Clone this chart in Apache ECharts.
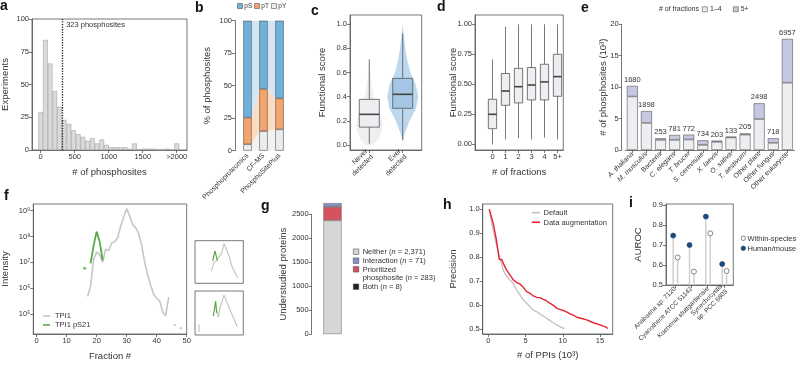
<!DOCTYPE html>
<html>
<head>
<meta charset="utf-8">
<script src="https://cdn.jsdelivr.net/npm/echarts@6.0.0/dist/echarts.min.js"></script>
<style>
html,body{margin:0;padding:0;background:#ffffff;}
#chart{width:800px;height:365px;}
</style>
</head>
<body>
<div id="chart"></div>
<script>
// ===================== DATA =====================
// (a) phosphosites per experiment (histogram)
const histBinCenters = [0, 69, 138, 207, 276, 345, 414, 483, 552, 621, 690, 759, 828, 897, 966, 1034, 1103, 1172, 1241, 1310, 1379, 1448, 1517, 1586, 1655, 1724, 1793, 1862, 1931, 2000];
const histCounts = [29, 84, 66, 45, 33, 23, 20, 15, 12, 10, 7, 9, 5, 8, 4, 2, 2, 2, 2, 1, 5, 0, 1, 1, 1, 0, 0, 1, 0, 5];
const histMedian = 323;
const histXTicks = [0, 500, 1000, 1500, 2000];

// (b) residue composition
const bCategories = ['Phosphoproteomics', 'CF-MS', 'PhosphoSitePlus'];
const bPY = [5.0, 15.0, 16.4];
const bPT = [20.5, 32.5, 23.9];
const bPS = [74.5, 52.5, 59.7];

// (c) functional score, never vs ever detected
const cCategories = ['Never\ndetected', 'Ever\ndetected'];
const cBoxStats = [[0.01, 0.148, 0.254, 0.378, 0.71], [0.04, 0.304, 0.42, 0.552, 0.925]];
const cNeverLevels = [0.0, 0.05, 0.1, 0.15, 0.2, 0.25, 0.3, 0.4, 0.5, 0.6, 0.72];
const cNeverDensity = [0.3, 0.7, 0.9, 1.0, 0.95, 0.85, 0.65, 0.35, 0.18, 0.08, 0.0];
const cEverLevels = [0.03, 0.1, 0.2, 0.3, 0.4, 0.5, 0.6, 0.7, 0.8, 0.9, 1.0];
const cEverDensity = [0.0, 0.15, 0.45, 0.85, 1.0, 0.85, 0.5, 0.3, 0.17, 0.08, 0.0];
const cYTicks = [0, 0.2, 0.4, 0.6, 0.8, 1.0];

// (d) functional score by # of fractions  [min, Q1, median, Q3, max]
const dCategories = ['0', '1', '2', '3', '4', '5+'];
const dBoxStats = [
  [0.0, 0.13, 0.25, 0.375, 0.708],
  [0.04, 0.325, 0.444, 0.59, 0.98],
  [0.05, 0.345, 0.48, 0.633, 1.0],
  [0.04, 0.37, 0.494, 0.64, 1.0],
  [0.055, 0.37, 0.52, 0.667, 1.0],
  [0.04, 0.40, 0.564, 0.75, 1.0]
];
const dYTicks = [0, 0.25, 0.5, 0.75, 1.0];

// (e) phosphosites per species (thousands)
const eSpecies = ['A. thaliana', 'M. musculus', 'Bacteria', 'C. elegans', 'T. brucei', 'S. cerevisiae', 'X. laevis', 'O. sativa', 'T. aestivum', 'Other plant', 'Other fungus', 'Other eukaryote'];
const eItalic = [true, true, false, true, true, true, true, true, true, false, false, false];
const eOneToFour = [8.51, 4.30, 1.61, 1.61, 1.67, 0.81, 1.29, 1.99, 2.44, 4.93, 1.14, 10.71];
const eFivePlusCount = [1680, 1898, 253, 781, 772, 734, 203, 133, 205, 2498, 718, 6957];

// (f) TPI1 elution profile
const fFractions = [17, 18, 19, 20, 21, 22, 23, 24, 25, 26, 27, 28, 29, 30, 31, 32, 33, 34, 35, 36, 37, 38, 39, 40, 41, 42, 43, 44];
const fTPI1 = [4.7e5, 1.2e6, 1.3e7, 2.5e7, 2.0e7, 1.0e7, 3.2e7, 2.8e7, 5.6e7, 6.3e7, 8.9e7, 2.5e8, 5.6e8, 1.2e9, 6.3e8, 2.8e8, 2.2e8, 1.3e8, 4.7e7, 1.0e7, 3.2e6, 1.3e6, 5.6e5, 4.0e5, 3.2e5, 1.2e5, 8.3e4, 4.5e5];
const fTPI1LoneFractions = [46, 48];
const fTPI1Lone = [3.7e4, 2.8e4];
const fPS21Fractions = [18, 19, 20, 21, 22];
const fPS21 = [9.0e6, 4.5e7, 1.55e8, 6.3e7, 1.2e7];
const fPS21LoneFractions = [16];
const fPS21Lone = [5.9e6];
const fYTicks = [5, 6, 7, 8, 9];
// insets (fraction, relative intensity)
const fInset1TPI1 = [[17, 0.30], [19.5, 0.51], [22, 0.55], [25, 0.66], [27.5, 0.74], [30, 0.98], [32.8, 0.82], [35.5, 0.66], [38, 0.43], [40.5, 0.31], [42.4, 0.20], [43.5, 0.23], [44.5, 0.14]];
const fInset1PS21 = [[18.3, 0.55], [20.7, 0.80], [23.1, 0.56]];
const fInset2TPI1a = [[4, 0.25], [4.2, 0.07]];
const fInset2TPI1b = [[22.4, 0.60], [24.1, 0.42], [25.9, 0.64], [27.6, 0.68], [30, 0.95], [32.8, 0.80], [36.2, 0.60], [39.7, 0.42], [42.4, 0.27], [43.8, 0.19]];
const fInset2PS21 = [[19, 0.45], [21.4, 0.81], [22.4, 0.53]];

// (g) understudied proteins
const gGroups = ['Neither', 'Prioritized phosphosite', 'Both', 'Interaction'];
const gCounts = [2371, 283, 8, 71];

// (h) precision vs # of PPIs (10^3)
const hDefaultX = [0.13, 0.67, 1.1, 1.57, 2.0, 2.46, 2.9, 3.36, 3.8, 4.25, 4.7, 5.15, 5.6, 6.05, 6.5, 6.94, 7.4, 7.8, 8.3, 8.7, 9.2, 9.6, 10.1, 10.2];
const hDefaultY = [1.0, 0.91, 0.85, 0.795, 0.746, 0.72, 0.705, 0.69, 0.663, 0.642, 0.621, 0.607, 0.593, 0.579, 0.572, 0.563, 0.554, 0.545, 0.535, 0.526, 0.517, 0.51, 0.503, 0.5];
const hAugX = [0.13, 0.67, 1.1, 1.48, 1.8, 2.0, 2.46, 2.9, 3.36, 3.8, 4.25, 4.7, 5.15, 5.6, 6.05, 6.5, 6.94, 7.4, 7.8, 8.3, 8.7, 9.2, 9.6, 10.1, 10.5, 11.0, 11.4, 11.9, 12.3, 13.2, 14.1, 15.0, 15.9, 16.0];
const hAugY = [1.0, 0.94, 0.87, 0.79, 0.79, 0.775, 0.746, 0.726, 0.705, 0.694, 0.688, 0.674, 0.656, 0.649, 0.638, 0.632, 0.631, 0.624, 0.618, 0.607, 0.6, 0.586, 0.582, 0.577, 0.571, 0.563, 0.558, 0.549, 0.546, 0.538, 0.526, 0.517, 0.507, 0.501];
const hXTicks = [0, 5, 10, 15];
const hYTicks = [0.5, 0.6, 0.7, 0.8, 0.9, 1.0];

// (i) AUROC
const iSpecies = ['Anabaena sp. 7120', 'Cyanothece ATCC 51142', 'Kuenenia stuttgartiensis', 'Synechocystis\nsp. PCC 6803'];
const iWithin = [0.638, 0.567, 0.758, 0.57];
const iHuman = [0.747, 0.70, 0.842, 0.605];
const iYTicks = [0.5, 0.6, 0.7, 0.8, 0.9];
const iBase = 0.5;

// ===================== STYLE HELPERS =====================
const FONT = '"Liberation Sans", Arial, Helvetica, sans-serif';
const AX = '#555555';
const TX = '#333333';
const FS = 7.5;
const TFS = 9.5;
const SUP = {5: '\u2075', 6: '\u2076', 7: '\u2077', 8: '\u2078', 9: '\u2079'};

function merge(a, b) {
  const out = Object.assign({}, a);
  for (const k in b) {
    const bv = b[k], av = a[k];
    if (bv && typeof bv === 'object' && !Array.isArray(bv) && typeof bv !== 'function' &&
        av && typeof av === 'object' && !Array.isArray(av)) out[k] = merge(av, bv);
    else out[k] = bv;
  }
  return out;
}
const axisBase = {
  type: 'value',
  axisLine: {show: true, onZero: false, lineStyle: {color: AX, width: 0.8}},
  axisTick: {show: true, length: 3, lineStyle: {color: AX, width: 0.8}},
  axisLabel: {color: TX, fontSize: FS, fontFamily: FONT, margin: 3},
  splitLine: {show: false},
  nameLocation: 'middle',
  nameMoveOverlap: false,
  nameTextStyle: {color: TX, fontSize: TFS, fontFamily: FONT}
};
const xAx = o => merge(axisBase, o);
const yAx = o => merge(merge(axisBase, {nameRotate: 90}), o);
function grid(l, t, w, h, frame) {
  return {left: l, top: t, width: w, height: h, show: frame, borderColor: AX,
          borderWidth: frame ? 0.8 : 0, backgroundColor: 'transparent',
          containLabel: false, outerBoundsMode: 'none'};
}
const idx = arr => arr.map((_, i) => i);

// ===================== GRIDS & AXES =====================
const grids = [
  grid(32, 19, 155, 131, true),          // 0 a
  grid(239.5, 20.7, 48, 130, false),     // 1 b
  grid(350, 15, 71.7, 135, true),        // 2 c
  grid(475, 15, 88.3, 135, true),        // 3 d
  grid(625.3, 24.3, 169.1, 125.7, false),// 4 e
  grid(33.3, 204, 153.4, 130, true),     // 5 f
  grid(195, 240.7, 48.3, 42.6, true),    // 6 f inset 1
  grid(195, 291, 48.3, 44, true),        // 7 f inset 2
  grid(311.7, 214.3, 41.6, 119.7, false),// 8 g
  grid(482.7, 204, 130, 130, true),      // 9 h
  grid(666, 204, 67.3, 81, true)         // 10 i
];

const xAxes = [
  xAx({gridIndex: 0, min: -128, max: 2151, name: '# of phosphosites', nameGap: 17.5,
       axisLabel: {customValues: histXTicks, formatter: v => v >= 2000 ? '>2000' : String(v)},
       axisTick: {customValues: histXTicks}}),
  xAx({gridIndex: 1, type: 'category', data: bCategories, axisLine: {show: false}, axisTick: {show: false},
       axisLabel: {interval: 0, rotate: 45, fontSize: 7, margin: 4}}),
  xAx({gridIndex: 2, min: -0.578, max: 1.569,
       axisLabel: {customValues: [0, 1], formatter: v => cCategories[Math.round(v)], rotate: 45, fontSize: 7, lineHeight: 8},
       axisTick: {customValues: [0, 1]}}),
  xAx({gridIndex: 3, min: -1.346, max: 5.446, name: '# of fractions', nameGap: 17.5,
       axisLabel: {customValues: idx(dCategories), formatter: v => dCategories[Math.round(v)]},
       axisTick: {customValues: idx(dCategories)}}),
  xAx({gridIndex: 4, type: 'category', data: eSpecies,
       axisTick: {alignWithLabel: true, interval: 0},
       axisLabel: {interval: 0, rotate: 45, fontSize: 7,
                   formatter: (v, i) => eItalic[i] ? '{it|' + v + '}' : v,
                   rich: {it: {fontStyle: 'italic', fontSize: 7, fontFamily: FONT, color: TX}}}}),
  xAx({gridIndex: 5, min: -1.1, max: 50, name: 'Fraction #', nameGap: 17.5,
       axisLabel: {customValues: [0, 10, 20, 30, 40, 50]}, axisTick: {customValues: [0, 10, 20, 30, 40, 50]}}),
  xAx({gridIndex: 6, min: 0, max: 50, show: false}),
  xAx({gridIndex: 7, min: 0, max: 50, show: false}),
  xAx({gridIndex: 8, type: 'category', data: ['Understudied'], show: false}),
  xAx({gridIndex: 9, min: -0.75, max: 16.7, name: '# of PPIs (10\u00B3)', nameGap: 16.5,
       axisLabel: {customValues: hXTicks}, axisTick: {customValues: hXTicks}}),
  xAx({gridIndex: 10, min: -0.551, max: 3.57,
       axisLabel: {customValues: idx(iSpecies), formatter: v => iSpecies[Math.round(v)], rotate: 45, fontSize: 6.5, lineHeight: 7.5},
       axisTick: {customValues: idx(iSpecies)}})
];

const yAxes = [
  yAx({gridIndex: 0, min: 0, max: 100, interval: 25, name: 'Experiments', nameGap: 21.5}),
  yAx({gridIndex: 1, min: 0, max: 100, interval: 25, offset: 4.5, name: '% of phosphosites', nameGap: 23}),
  yAx({gridIndex: 2, min: -0.0414, max: 1.077, name: 'Functional score', nameGap: 23,
       axisLabel: {customValues: cYTicks, formatter: v => v.toFixed(1)}, axisTick: {customValues: cYTicks}}),
  yAx({gridIndex: 3, min: -0.0475, max: 1.0775, name: 'Functional score', nameGap: 16.5,
       axisLabel: {customValues: dYTicks, formatter: v => v.toFixed(2)}, axisTick: {customValues: dYTicks}}),
  yAx({gridIndex: 4, min: 0, max: 20, interval: 5, offset: 3.6, name: '# of phosphosites (10\u00B3)', nameGap: 13.5}),
  yAx({gridIndex: 5, min: 4.22, max: 9.26, name: 'Intensity', nameGap: 23,
       axisLabel: {customValues: fYTicks, formatter: v => '10' + SUP[Math.round(v)]}, axisTick: {customValues: fYTicks}}),
  yAx({gridIndex: 6, min: 0, max: 1.05, show: false}),
  yAx({gridIndex: 7, min: 0, max: 1.05, show: false}),
  yAx({gridIndex: 8, min: 0, max: 2500, interval: 500, name: 'Understudied proteins', nameGap: 23.5,
       axisLabel: {formatter: v => String(v)}}),
  yAx({gridIndex: 9, min: 0.479, max: 1.022, name: 'Precision', nameGap: 24.5,
       axisLabel: {customValues: hYTicks, formatter: v => v.toFixed(1)}, axisTick: {customValues: hYTicks}}),
  yAx({gridIndex: 10, min: 0.5, max: 0.905, name: 'AUROC', nameGap: 22.5,
       axisLabel: {customValues: iYTicks, formatter: v => v.toFixed(1)}, axisTick: {customValues: iYTicks}})
];

// ===================== SERIES =====================
const series = [];
const BORDER = '#555555';

// (a)
series.push({
  type: 'bar', xAxisIndex: 0, yAxisIndex: 0, barWidth: 4.7,
  data: histBinCenters.map((c, i) => [c, histCounts[i]]),
  itemStyle: {color: '#dadada', borderColor: '#9b9b9b', borderWidth: 0.5},
  markLine: {silent: true, symbol: ['none', 'none'], data: [{xAxis: histMedian}],
             lineStyle: {color: '#222', type: 'dotted', width: 1.3}, label: {show: false}},
  markPoint: {silent: true, symbol: 'circle', symbolSize: 1, itemStyle: {color: 'rgba(0,0,0,0)'},
              data: [{coord: [histMedian, 95.5]}],
              label: {show: true, position: 'right', distance: 3, formatter: histMedian + ' phosphosites',
                      color: TX, fontSize: 7.5, fontFamily: FONT}}
});

// (b)
const bColors = {pS: '#6eb1dc', pT: '#f3a36b', pY: '#ececec'};
const bBandColors = ['#f2f2f2', '#fcdcc3', '#d3e6f4'];
const bCum = bCategories.map((_, i) => [0, bPY[i], bPY[i] + bPT[i], bPY[i] + bPT[i] + bPS[i]]);
const bBarW = 8.5;
series.push({
  type: 'custom', xAxisIndex: 1, yAxisIndex: 1, z: 1, silent: true,
  data: [[0, 0], [0, 1], [0, 2], [1, 0], [1, 1], [1, 2]],
  renderItem: (params, api) => {
    const i = api.value(0), k = api.value(1);
    const a1 = api.coord([i, bCum[i][k]]), a2 = api.coord([i, bCum[i][k + 1]]);
    const b1 = api.coord([i + 1, bCum[i + 1][k]]), b2 = api.coord([i + 1, bCum[i + 1][k + 1]]);
    const h = bBarW / 2;
    return {type: 'polygon', shape: {points: [[a1[0] + h, a1[1]], [a2[0] + h, a2[1]], [b2[0] - h, b2[1]], [b1[0] - h, b1[1]]]},
            style: {fill: bBandColors[k]}};
  }
});
[['pY', bPY], ['pT', bPT], ['pS', bPS]].forEach(([name, vals]) => {
  series.push({type: 'bar', name, stack: 'b', xAxisIndex: 1, yAxisIndex: 1, barWidth: bBarW, z: 3, data: vals,
               itemStyle: {color: bColors[name], borderColor: BORDER, borderWidth: 0.6}});
});

// box renderer (c, d)
function boxRender(fills, boxW) {
  return (params, api) => {
    const i = api.value(0);
    const p = [1, 2, 3, 4, 5].map(d => api.coord([i, api.value(d)]));
    const x = p[0][0], hw = boxW / 2;
    return {type: 'group', children: [
      {type: 'line', shape: {x1: x, y1: p[0][1], x2: x, y2: p[1][1]}, style: {stroke: '#555', lineWidth: 0.8}},
      {type: 'line', shape: {x1: x, y1: p[3][1], x2: x, y2: p[4][1]}, style: {stroke: '#555', lineWidth: 0.8}},
      {type: 'rect', shape: {x: x - hw, y: p[3][1], width: boxW, height: p[1][1] - p[3][1]},
       style: {fill: fills[i], stroke: '#555', lineWidth: 0.8}},
      {type: 'line', shape: {x1: x - hw, y1: p[2][1], x2: x + hw, y2: p[2][1]}, style: {stroke: '#444', lineWidth: 1.6}}
    ]};
  };
}

// (c) violins
const cLevels = [cNeverLevels, cEverLevels], cDens = [cNeverDensity, cEverDensity];
const cViolinHalfW = [13, 15.5];
const cViolinFill = ['#efefef', '#bdd7ee'];
series.push({
  type: 'custom', xAxisIndex: 2, yAxisIndex: 2, z: 1, silent: true,
  data: cBoxStats.map((s, i) => [i, s[2]]),
  renderItem: (params, api) => {
    const i = api.value(0);
    const L = [], R = [];
    cLevels[i].forEach((lv, k) => {
      const c = api.coord([i, lv]);
      L.push([c[0] - cDens[i][k] * cViolinHalfW[i], c[1]]);
      R.push([c[0] + cDens[i][k] * cViolinHalfW[i], c[1]]);
    });
    return {type: 'polygon', shape: {points: L.concat(R.reverse())}, style: {fill: cViolinFill[i]}};
  }
});
series.push({
  type: 'custom', xAxisIndex: 2, yAxisIndex: 2, z: 2, silent: true,
  encode: {x: 0, y: [1, 2, 3, 4, 5]},
  data: cBoxStats.map((s, i) => [i].concat(s)),
  renderItem: boxRender(['#eceef1', '#a4c6e4'], 20)
});

// (d)
series.push({
  type: 'custom', xAxisIndex: 3, yAxisIndex: 3, z: 2, silent: true,
  encode: {x: 0, y: [1, 2, 3, 4, 5]},
  data: dBoxStats.map((s, i) => [i].concat(s)),
  renderItem: boxRender(dCategories.map(() => '#eceef1'), 8.3)
});

// (e)
series.push({
  type: 'bar', name: '1\u20134', stack: 'e', xAxisIndex: 4, yAxisIndex: 4, barWidth: 11,
  data: eOneToFour,
  itemStyle: {color: '#eceef1', borderColor: BORDER, borderWidth: 0.6}
});
series.push({
  type: 'bar', name: '5+', stack: 'e', xAxisIndex: 4, yAxisIndex: 4, barWidth: 11,
  data: eFivePlusCount.map(v => v / 1000),
  itemStyle: {color: '#c6c7e1', borderColor: BORDER, borderWidth: 0.6},
  label: {show: true, position: 'top', distance: 2, formatter: p => String(eFivePlusCount[p.dataIndex]),
          color: TX, fontSize: 7.5, fontFamily: FONT}
});

// (f)
const GRAY = '#c6c6c6', GREEN = '#5aab47';
series.push({type: 'line', name: 'TPI1', xAxisIndex: 5, yAxisIndex: 5, z: 2, showSymbol: false,
  data: fFractions.map((f, i) => [f, Math.log10(fTPI1[i])]), lineStyle: {color: GRAY, width: 1.6}, itemStyle: {color: GRAY}});
series.push({type: 'scatter', xAxisIndex: 5, yAxisIndex: 5, z: 2, symbolSize: 2.6,
  data: fTPI1LoneFractions.map((f, i) => [f, Math.log10(fTPI1Lone[i])]), itemStyle: {color: GRAY}});
series.push({type: 'line', name: 'TPI1 pS21', xAxisIndex: 5, yAxisIndex: 5, z: 3, showSymbol: false,
  data: fPS21Fractions.map((f, i) => [f, Math.log10(fPS21[i])]), lineStyle: {color: GREEN, width: 1.8}, itemStyle: {color: GREEN}});
series.push({type: 'scatter', xAxisIndex: 5, yAxisIndex: 5, z: 3, symbolSize: 3,
  data: fPS21LoneFractions.map((f, i) => [f, Math.log10(fPS21Lone[i])]), itemStyle: {color: GREEN}});
[[6, fInset1TPI1, GRAY], [6, fInset1PS21, GREEN], [7, fInset2TPI1a, GRAY], [7, fInset2TPI1b, GRAY], [7, fInset2PS21, GREEN]]
  .forEach(([g, d, col]) => series.push({type: 'line', xAxisIndex: g, yAxisIndex: g, showSymbol: false, data: d,
    z: col === GREEN ? 3 : 2, lineStyle: {color: col, width: 1.2}}));

// (g)
const gColors = ['#d6d6d6', '#d5535f', '#1e1e1e', '#8b8fc8'];
gGroups.forEach((name, i) => series.push({
  type: 'bar', name, stack: 'g', xAxisIndex: 8, yAxisIndex: 8, barWidth: 18.3, clip: false,
  data: [gCounts[i]], itemStyle: {color: gColors[i], borderColor: '#666', borderWidth: 0.5}
}));

// (h)
series.push({type: 'line', name: 'Default', xAxisIndex: 9, yAxisIndex: 9, showSymbol: false, z: 2,
  data: hDefaultX.map((x, i) => [x, hDefaultY[i]]), lineStyle: {color: '#c4c4c4', width: 1.4}});
series.push({type: 'line', name: 'Data augmentation', xAxisIndex: 9, yAxisIndex: 9, showSymbol: false, z: 3,
  data: hAugX.map((x, i) => [x, hAugY[i]]), lineStyle: {color: '#e8202e', width: 1.4}});

// (i)
function lollipop(dx, fill, stroke) {
  return (params, api) => {
    const i = api.value(0);
    const base = api.coord([i, iBase]), top = api.coord([i, api.value(1)]);
    const x = top[0] + dx;
    return {type: 'group', children: [
      {type: 'line', shape: {x1: x, y1: base[1], x2: x, y2: top[1]}, style: {stroke: '#cfcfcf', lineWidth: 1.5}},
      {type: 'circle', shape: {cx: x, cy: top[1], r: 2.5}, style: {fill, stroke, lineWidth: 0.7}}
    ]};
  };
}
series.push({type: 'custom', name: 'Within-species', xAxisIndex: 10, yAxisIndex: 10, silent: true,
  data: iWithin.map((v, i) => [i, v]), renderItem: lollipop(2.6, '#ffffff', '#555')});
series.push({type: 'custom', name: 'Human/mouse', xAxisIndex: 10, yAxisIndex: 10, silent: true,
  data: iHuman.map((v, i) => [i, v]), renderItem: lollipop(-1.8, '#1d4a78', '#1d4a78')});

// ===================== GRAPHIC (panel letters & legends) =====================
const G = [];
const letter = (t, x, y) => G.push({type: 'text', x, y, silent: true,
  style: {text: t, fontSize: 14, fontWeight: 'bold', fontFamily: FONT, fill: '#111', verticalAlign: 'top'}});
letter('a', 0, -1); letter('b', 195, 1.5); letter('c', 311, 4); letter('d', 437, 0.5); letter('e', 581, 1.5);
letter('f', 4, 189.5); letter('g', 261, 199.5); letter('h', 443, 198); letter('i', 629, 196.5);

const txt = (s, x, y, size, extra) => G.push(Object.assign({type: 'text', x, y, silent: true,
  style: Object.assign({text: s, fontSize: size || 7.5, fontFamily: FONT, fill: TX, verticalAlign: 'middle'}, extra || {})}));
const sq = (x, yc, fill, s, size) => {
  size = size || 5;
  G.push({type: 'rect', silent: true, shape: {x, y: yc - size / 2, width: size, height: size}, style: {fill, stroke: '#555', lineWidth: 0.6}});
};
const seg = (x1, x2, y, col) => G.push({type: 'line', silent: true, shape: {x1, y1: y, x2, y2: y}, style: {stroke: col, lineWidth: 1.6}});

// b legend
sq(237.5, 6, bColors.pS); txt('pS', 244.3, 6.3, 6.5);
sq(254.5, 6, bColors.pT); txt('pT', 261.3, 6.3, 6.5);
sq(271.5, 6, bColors.pY); txt('pY', 278.3, 6.3, 6.5);
// e legend
txt('# of fractions', 699, 9.5, 7, {align: 'right'});
sq(702.3, 9.3, '#eceef1'); txt('1\u20134', 710, 9.5, 7);
sq(733.3, 9.3, '#c6c7e1'); txt('5+', 740.7, 9.5, 7);
// f legend
seg(43, 50, 316, GRAY); txt('TPI1', 55, 316.3, 7.5);
seg(43, 50, 325, GREEN); txt('TPI1 pS21', 55, 325.3, 7.5);
// g legend
const richN = {a: {fontSize: 7.5, fontFamily: FONT, fill: TX, color: TX}, i: {fontSize: 7.5, fontFamily: FONT, fontStyle: 'italic', fill: TX, color: TX}};
sq(353.3, 251.7, gColors[0], null, 5.5); txt('{a|Neither (}{i|n}{a| = 2,371)}', 362.7, 252, 7.5, {rich: richN});
sq(353.3, 260.7, gColors[3], null, 5.5); txt('{a|Interaction (}{i|n}{a| = 71)}', 362.7, 261, 7.5, {rich: richN});
sq(353.3, 269.3, gColors[1], null, 5.5); txt('Prioritized', 362.7, 269.6, 7.5);
txt('{a|phosphosite (}{i|n}{a| = 283)}', 362.7, 278, 7.5, {rich: richN});
sq(353.3, 286.7, gColors[2], null, 5.5); txt('{a|Both (}{i|n}{a| = 8)}', 362.7, 287, 7.5, {rich: richN});
// h legend
seg(531.7, 540, 212.7, '#c4c4c4'); txt('Default', 543.5, 213, 7.5);
seg(531.7, 540, 222.3, '#e8202e'); txt('Data augmentation', 543.5, 222.6, 7.5);
// i legend
G.push({type: 'circle', silent: true, shape: {cx: 743.3, cy: 238.3, r: 2.2}, style: {fill: '#fff', stroke: '#555', lineWidth: 0.7}});
txt('Within-species', 747.5, 238.6, 7.5);
G.push({type: 'circle', silent: true, shape: {cx: 743.3, cy: 248.3, r: 2.2}, style: {fill: '#1d4a78', stroke: '#1d4a78', lineWidth: 0.7}});
txt('Human/mouse', 747.5, 248.6, 7.5);

// ===================== RENDER =====================
const chart = echarts.init(document.getElementById('chart'), null, {renderer: 'canvas'});
chart.setOption({
  animation: false,
  backgroundColor: '#ffffff',
  textStyle: {fontFamily: FONT},
  grid: grids, xAxis: xAxes, yAxis: yAxes, series, graphic: G
});
</script>
</body>
</html>
